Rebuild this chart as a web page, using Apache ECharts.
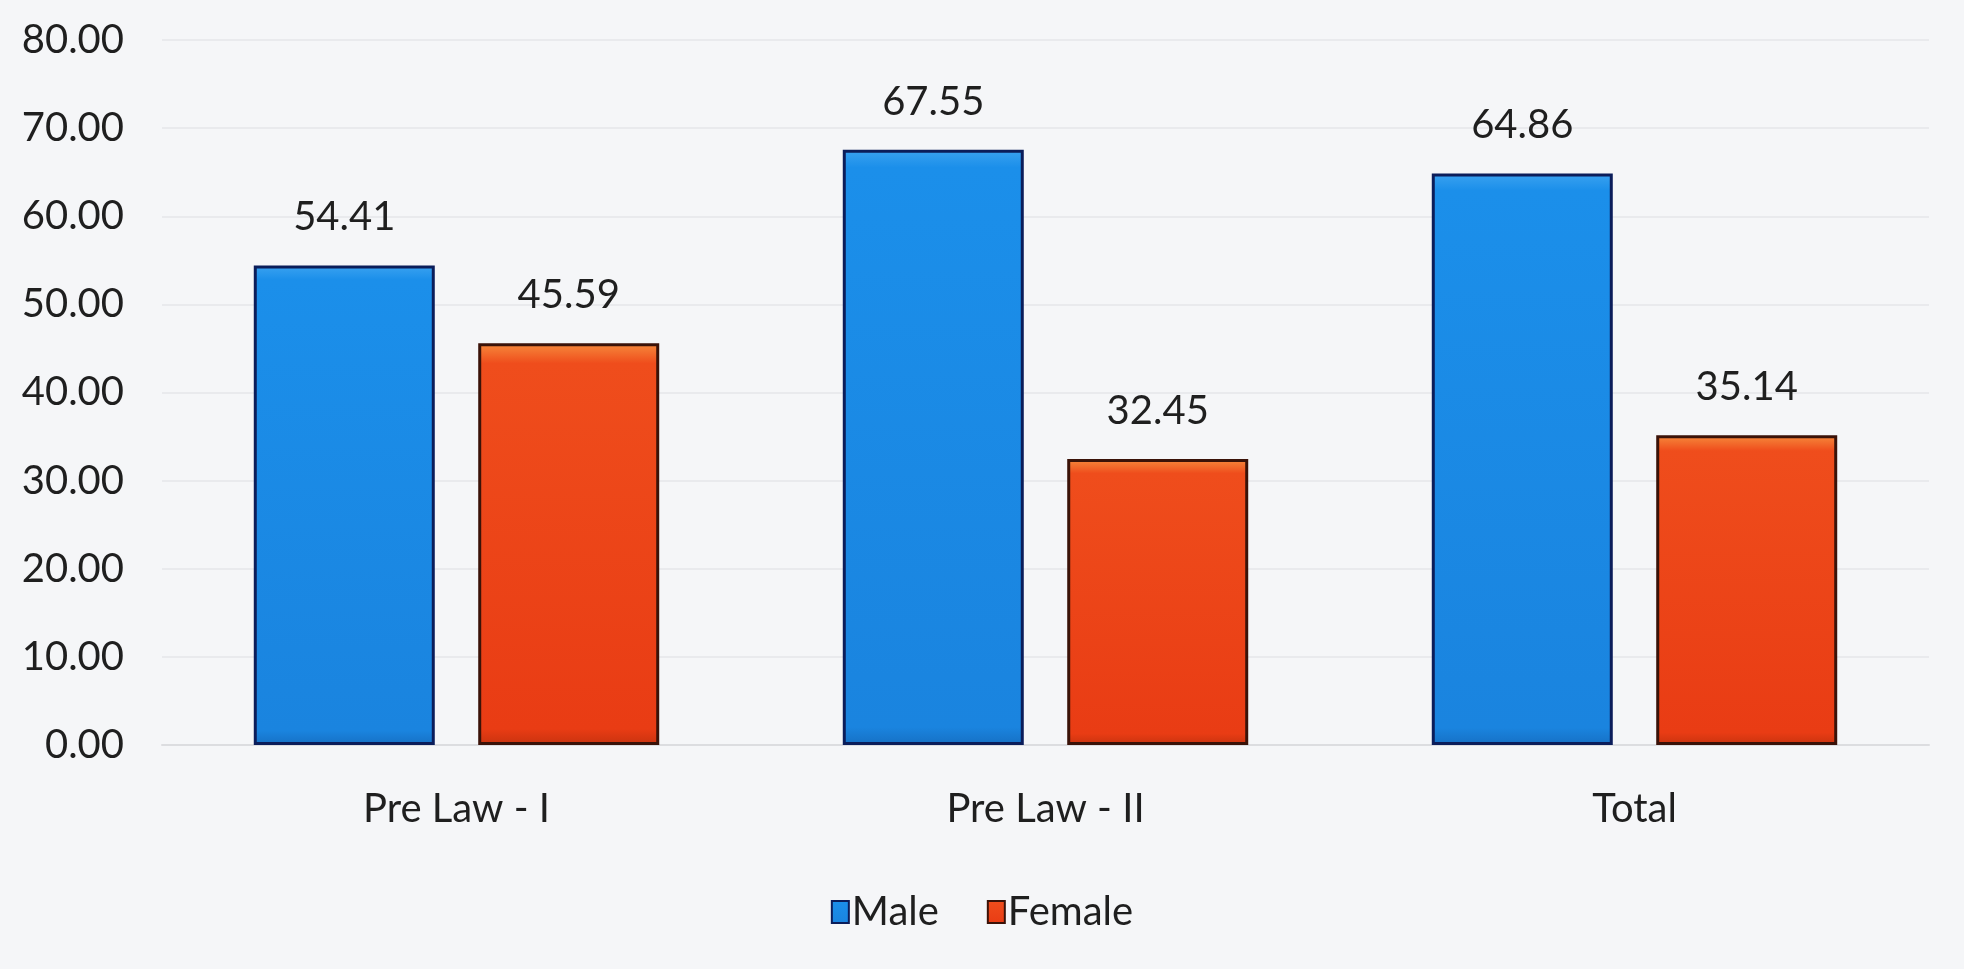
<!DOCTYPE html>
<html>
<head>
<meta charset="utf-8">
<script src="https://cdn.jsdelivr.net/npm/echarts@6/dist/echarts.min.js"></script>
<style>
	html, body { margin: 0; padding: 0; background: #f5f6f8; }
	#main { width: 1964px; height: 969px; }
</style>
</head>
<body>
<div id="main"></div>
<script>
	// values
	var categories = ['Pre Law - I', 'Pre Law - II', 'Total'];
	var maleValues = [54.41, 67.55, 64.86];
	var femaleValues = [45.59, 32.45, 35.14];
	var seriesNames = ['Male', 'Female'];

	var font = 'Lato';
	var textColor = '#1f1f1f';

	var chart = echarts.init(document.getElementById('main'));

	var barLabel = {
		show: true,
		position: 'top',
		distance: 28,
		fontFamily: font,
		fontSize: 40,
		color: textColor,
		formatter: function(p){ return p.value.toFixed(2); }
	};

	var option = {
		backgroundColor: '#f5f6f8',
		textStyle: { fontFamily: font },
		grid: {
			left: 162,
			right: 35,
			top: 40,
			bottom: 224
		},
		legend: {
			data: seriesNames,
			bottom: 32,
			left: 'center',
			icon: 'rect',
			itemWidth: 17,
			itemHeight: 22,
			itemGap: 48,
			textStyle: { fontFamily: font, fontSize: 40, color: textColor, padding: [0, 0, 0, -2] }
		},
		xAxis: {
			type: 'category',
			data: categories,
			axisLine: { show: true, lineStyle: { color: '#dcdde0', width: 2 } },
			axisTick: { show: false },
			axisLabel: {
				margin: 44,
				fontFamily: font,
				fontSize: 40,
				color: textColor
			}
		},
		yAxis: {
			type: 'value',
			min: 0,
			max: 80,
			interval: 10,
			axisLine: { show: false },
			axisTick: { show: false },
			splitLine: { show: true, lineStyle: { color: '#e9eaed', width: 2 } },
			axisLabel: {
				margin: 38,
				fontFamily: font,
				fontSize: 40,
				color: textColor,
				formatter: function(v){ return v.toFixed(2); }
			}
		},
		series: [
			{
				name: seriesNames[0],
				type: 'bar',
				data: maleValues,
				barWidth: 181,
				barGap: '24%',
				itemStyle: {
					color: new echarts.graphic.LinearGradient(0, 0, 0, 1, [
						{ offset: 0, color: '#3aa2f0' },
						{ offset: 0.03, color: '#1b8fea' },
						{ offset: 0.97, color: '#1a84df' },
						{ offset: 1, color: '#1670c4' }
					]),
					borderColor: '#0b1d5a',
					borderWidth: 3
				},
				label: barLabel
			},
			{
				name: seriesNames[1],
				type: 'bar',
				data: femaleValues,
				barWidth: 181,
				itemStyle: {
					color: new echarts.graphic.LinearGradient(0, 0, 0, 1, [
						{ offset: 0, color: '#f68a3c' },
						{ offset: 0.05, color: '#ef4d1c' },
						{ offset: 0.96, color: '#e93c14' },
						{ offset: 1, color: '#c8330f' }
					]),
					borderColor: '#3a1208',
					borderWidth: 3
				},
				label: barLabel
			}
		]
	};

	chart.setOption(option, true);
</script>
</body>
</html>
